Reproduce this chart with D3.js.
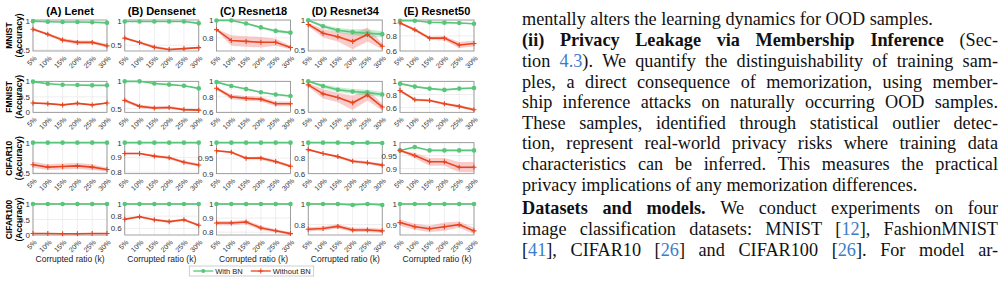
<!DOCTYPE html>
<html>
<head>
<meta charset="utf-8">
<script src="https://cdn.jsdelivr.net/npm/d3@7"></script>
<style>
  body { margin: 0; background: #fff; }
  svg { display: block; }
</style>
</head>
<body>
<svg id="fig" width="1002" height="299"></svg>
<script>
// ===========================
// BN vs no-BN accuracy grid + paper text column
// ===========================

const models = ['(A) Lenet', '(B) Densenet', '(C) Resnet18', '(D) Resnet34', '(E) Resnet50'];
const datasets = ['MNIST', 'FMNIST', 'CIFAR10', 'CIFAR100'];
const ratios = [5, 10, 15, 20, 25, 30];
const ratioLabels = ['5%', '10%', '15%', '20%', '25%', '30%'];

// rows = model A..E, columns = ratios
const mnistWithBN = [
    [1.00, 0.99, 0.985, 0.985, 0.98, 0.97],
    [1.00, 1.00, 1.00, 1.00, 1.00, 0.96],
    [1.00, 1.00, 0.965, 0.92, 0.88, 0.86],
    [1.00, 0.90, 0.83, 0.80, 0.78, 0.765],
    [1.00, 1.00, 0.98, 0.975, 0.97, 0.96]
];
const mnistWithoutBN = [
    [0.86, 0.77, 0.67, 0.63, 0.63, 0.57],
    [0.65, 0.56, 0.46, 0.41, 0.43, 0.45],
    [0.895, 0.77, 0.76, 0.75, 0.75, 0.69],
    [0.93, 0.78, 0.72, 0.64, 0.76, 0.56],
    [0.97, 0.88, 0.77, 0.77, 0.68, 0.70]
];
const mnistSpreadBN = [
    [0.005, 0.005, 0.005, 0.005, 0.005, 0.008],
    [0.003, 0.003, 0.003, 0.003, 0.003, 0.01],
    [0.003, 0.005, 0.01, 0.012, 0.015, 0.015],
    [0.01, 0.03, 0.04, 0.05, 0.07, 0.05],
    [0.003, 0.004, 0.005, 0.005, 0.006, 0.008]
];
const mnistSpreadNoBN = [
    [0.02, 0.025, 0.03, 0.035, 0.03, 0.03],
    [0.02, 0.025, 0.035, 0.02, 0.02, 0.02],
    [0.01, 0.06, 0.06, 0.06, 0.04, 0.02],
    [0.03, 0.07, 0.08, 0.13, 0.12, 0.05],
    [0.01, 0.02, 0.02, 0.03, 0.04, 0.04]
];

const fmnistWithBN = [
    [0.99, 0.92, 0.89, 0.88, 0.87, 0.87],
    [1.00, 1.00, 0.96, 0.94, 0.92, 0.87],
    [0.99, 0.94, 0.90, 0.86, 0.83, 0.81],
    [1.00, 0.92, 0.86, 0.83, 0.81, 0.78],
    [0.965, 0.92, 0.89, 0.87, 0.89, 0.90]
];
const fmnistWithoutBN = [
    [0.30, 0.28, 0.24, 0.29, 0.24, 0.30],
    [0.65, 0.54, 0.51, 0.52, 0.48, 0.47],
    [0.91, 0.80, 0.78, 0.77, 0.71, 0.71],
    [0.94, 0.79, 0.73, 0.64, 0.77, 0.57],
    [0.86, 0.72, 0.71, 0.66, 0.62, 0.57]
];
const fmnistSpreadBN = [
    [0.005, 0.008, 0.008, 0.008, 0.008, 0.008],
    [0.003, 0.005, 0.008, 0.008, 0.01, 0.01],
    [0.005, 0.01, 0.01, 0.01, 0.01, 0.01],
    [0.01, 0.03, 0.04, 0.04, 0.05, 0.04],
    [0.005, 0.008, 0.008, 0.008, 0.008, 0.008]
];
const fmnistSpreadNoBN = [
    [0.02, 0.02, 0.02, 0.02, 0.02, 0.02],
    [0.03, 0.03, 0.03, 0.03, 0.02, 0.02],
    [0.02, 0.03, 0.03, 0.03, 0.03, 0.03],
    [0.03, 0.08, 0.08, 0.12, 0.09, 0.06],
    [0.02, 0.02, 0.02, 0.02, 0.02, 0.02]
];

const cifar10WithBN = [
    [1.00, 1.00, 1.00, 1.00, 1.00, 1.00],
    [1.00, 1.00, 1.00, 1.00, 1.00, 1.00],
    [1.00, 1.00, 1.00, 1.00, 1.00, 1.00],
    [1.00, 1.00, 1.00, 0.995, 1.00, 0.995],
    [0.97, 0.983, 0.97, 0.97, 0.97, 0.97]
];
const cifar10WithoutBN = [
    [0.63, 0.59, 0.60, 0.61, 0.59, 0.55],
    [0.927, 0.927, 0.909, 0.898, 0.867, 0.849],
    [0.974, 0.969, 0.95, 0.95, 0.939, 0.924],
    [0.91, 0.86, 0.82, 0.76, 0.74, 0.71],
    [0.97, 0.95, 0.926, 0.926, 0.905, 0.905]
];
const cifar10SpreadBN = [
    [0.003, 0.003, 0.003, 0.003, 0.003, 0.003],
    [0.001, 0.001, 0.001, 0.001, 0.001, 0.001],
    [0.0005, 0.0005, 0.0005, 0.0005, 0.0005, 0.0005],
    [0.003, 0.003, 0.003, 0.004, 0.003, 0.004],
    [0.002, 0.003, 0.003, 0.003, 0.003, 0.003]
];
const cifar10SpreadNoBN = [
    [0.05, 0.05, 0.05, 0.05, 0.05, 0.03],
    [0.005, 0.005, 0.008, 0.01, 0.01, 0.01],
    [0.003, 0.003, 0.004, 0.005, 0.005, 0.005],
    [0.01, 0.012, 0.015, 0.02, 0.02, 0.02],
    [0.003, 0.01, 0.015, 0.015, 0.02, 0.02]
];

const cifar100WithBN = [
    [1.00, 1.00, 1.00, 1.00, 1.00, 1.00],
    [1.00, 1.00, 1.00, 1.00, 1.00, 1.00],
    [1.00, 1.00, 1.00, 1.00, 1.00, 1.00],
    [1.00, 1.00, 1.00, 0.99, 1.00, 0.99],
    [1.00, 1.00, 1.00, 1.00, 1.00, 1.00]
];
const cifar100WithoutBN = [
    [0.05, 0.05, 0.04, 0.04, 0.05, 0.05],
    [0.75, 0.79, 0.74, 0.71, 0.74, 0.65],
    [0.865, 0.865, 0.872, 0.83, 0.81, 0.79],
    [0.756, 0.763, 0.783, 0.749, 0.749, 0.74],
    [0.91, 0.89, 0.88, 0.89, 0.90, 0.87]
];
const cifar100SpreadBN = [
    [0.003, 0.003, 0.003, 0.003, 0.003, 0.003],
    [0.003, 0.003, 0.003, 0.003, 0.003, 0.003],
    [0.001, 0.001, 0.001, 0.001, 0.001, 0.001],
    [0.003, 0.003, 0.003, 0.005, 0.003, 0.005],
    [0.001, 0.001, 0.001, 0.001, 0.001, 0.001]
];
const cifar100SpreadNoBN = [
    [0.01, 0.01, 0.01, 0.01, 0.01, 0.01],
    [0.02, 0.02, 0.02, 0.02, 0.02, 0.02],
    [0.015, 0.015, 0.015, 0.015, 0.01, 0.01],
    [0.02, 0.02, 0.02, 0.02, 0.02, 0.02],
    [0.015, 0.015, 0.015, 0.02, 0.015, 0.015]
];

// y limits and tick labels, per dataset row, per model column
const yDomains = [
    [[0.48, 1.02], [0.38, 1.03], [0.65, 1.005], [0.48, 1.005], [0.6, 1.01]],
    [[0, 1.0], [0.43, 1.0], [0.6, 1.0], [0.48, 1.0], [0.53, 1.0]],
    [[0.48, 1.0], [0.79, 1.0], [0.9, 1.0], [0.6, 1.0], [0.88, 1.0]],
    [[0, 1.0], [0.49, 1.0], [0.78, 1.0], [0.7, 1.0], [0.85, 1.0]]
];
const yTicks = [
    [[0.5, 1], [0.5, 1], [0.8, 1], [0.5, 1], [0.6, 0.8, 1]],
    [[0, 0.5, 1], [0.5, 1], [0.6, 0.8, 1], [0.5, 1], [0.6, 0.8, 1]],
    [[0.5, 1], [0.8, 0.9, 1], [0.9, 0.95, 1], [0.6, 0.8, 1], [0.9, 0.95, 1]],
    [[0, 0.5, 1], [0.6, 0.8, 1], [0.8, 0.9, 1], [0.8, 1], [0.9, 1]]
];

const seriesWithBN = [mnistWithBN, fmnistWithBN, cifar10WithBN, cifar100WithBN];
const seriesWithoutBN = [mnistWithoutBN, fmnistWithoutBN, cifar10WithoutBN, cifar100WithoutBN];
const spreadWithBN = [mnistSpreadBN, fmnistSpreadBN, cifar10SpreadBN, cifar100SpreadBN];
const spreadWithoutBN = [mnistSpreadNoBN, fmnistSpreadNoBN, cifar10SpreadNoBN, cifar100SpreadNoBN];

// Text column (markup: *bold* and #link#)
const textLines = [
    { t: 'mentally alters the learning dynamics for OOD samples.', justify: false },
    { t: '*(ii)* *Privacy* *Leakage* *via* *Membership* *Inference* (Sec-', justify: true },
    { t: 'tion #4.3#). We quantify the distinguishability of training sam-', justify: true },
    { t: 'ples, a direct consequence of memorization, using member-', justify: true },
    { t: 'ship inference attacks on naturally occurring OOD samples.', justify: true },
    { t: 'These samples, identified through statistical outlier detec-', justify: true },
    { t: 'tion, represent real-world privacy risks where training data', justify: true },
    { t: 'characteristics can be inferred. This measures the practical', justify: true },
    { t: 'privacy implications of any memorization differences.', justify: false },
    { t: '*Datasets* *and* *models.* We conduct experiments on four', justify: true },
    { t: 'image classification datasets: MNIST [#12#], FashionMNIST', justify: true },
    { t: '[#41#], CIFAR10 [#26#] and CIFAR100 [#26#]. For model ar-', justify: true }
];

// ── Layout ──────────────────────────────────────────────────────────────────
const colors = {
    bn: '#58c67a', bnBand: '#5cc97d',
    noBn: '#e8451e', noBnBand: '#f07c7c',
    grid: '#e6e6e6', frame: '#8c8c8c', tick: '#333', link: '#3d7cc9'
};
const sans = '"Liberation Sans", Arial, sans-serif';
const serif = '"Liberation Serif", "Times New Roman", serif';

const panelW = 74, panelH = 31;
const colLeft = d3.scaleLinear().domain([0, models.length - 1]).range([33, 400]);
const rowTop = d3.scaleLinear().domain([0, datasets.length - 1]).range([20, 204]);

const svg = d3.select('#fig');
svg.append('rect').attr('width', 1002).attr('height', 299).attr('fill', '#fff');

const x = d3.scaleLinear().domain([ratios[0], ratios[ratios.length - 1]]).range([0, panelW]);

datasets.forEach((ds, r) => {
    models.forEach((m, c) => {
        const g = svg.append('g')
            .attr('transform', `translate(${colLeft(c)},${rowTop(r)})`);
        const y = d3.scaleLinear().domain(yDomains[r][c]).range([panelH, 0]);

        const clipId = `clip-${r}-${c}`;
        g.append('clipPath').attr('id', clipId)
            .append('rect').attr('width', panelW).attr('height', panelH);

        // grid
        g.append('g').selectAll('line').data(ratios).join('line')
            .attr('x1', d => x(d)).attr('x2', d => x(d))
            .attr('y1', 0).attr('y2', panelH)
            .attr('stroke', colors.grid).attr('stroke-width', 0.7);
        g.append('g').selectAll('line').data(yTicks[r][c]).join('line')
            .attr('x1', 0).attr('x2', panelW)
            .attr('y1', d => y(d)).attr('y2', d => y(d))
            .attr('stroke', colors.grid).attr('stroke-width', 0.7);

        const bn = ratios.map((k, i) => ({ k, v: seriesWithBN[r][c][i], s: spreadWithBN[r][c][i] }));
        const nobn = ratios.map((k, i) => ({ k, v: seriesWithoutBN[r][c][i], s: spreadWithoutBN[r][c][i] }));

        const band = d3.area()
            .x(d => x(d.k))
            .y0(d => y(d.v - d.s))
            .y1(d => y(d.v + d.s));
        const line = d3.line().x(d => x(d.k)).y(d => y(d.v));

        const plot = g.append('g').attr('clip-path', `url(#${clipId})`);
        plot.append('path').attr('d', band(nobn))
            .attr('fill', colors.noBnBand).attr('fill-opacity', 0.4);
        plot.append('path').attr('d', band(bn))
            .attr('fill', colors.bnBand).attr('fill-opacity', 0.35);

        // frame
        g.append('rect').attr('width', panelW).attr('height', panelH)
            .attr('fill', 'none').attr('stroke', colors.frame).attr('stroke-width', 0.8);

        // lines + markers
        g.append('path').attr('d', line(bn))
            .attr('fill', 'none').attr('stroke', colors.bn).attr('stroke-width', 1.6);
        g.selectAll('circle.bn').data(bn).join('circle')
            .attr('cx', d => x(d.k)).attr('cy', d => y(d.v)).attr('r', 2.3)
            .attr('fill', colors.bn);

        g.append('path').attr('d', line(nobn))
            .attr('fill', 'none').attr('stroke', colors.noBn).attr('stroke-width', 1.6);
        g.selectAll('path.plus').data(nobn).join('path')
            .attr('d', d => `M${x(d.k) - 2.5},${y(d.v)}h5M${x(d.k)},${y(d.v) - 2.5}v5`)
            .attr('stroke', colors.noBn).attr('stroke-width', 1.1);

        // y axis
        const ya = g.append('g')
            .call(d3.axisLeft(y).tickValues(yTicks[r][c]).tickSize(0).tickPadding(3)
                .tickFormat(d3.format('~g')));
        ya.select('.domain').remove();
        ya.selectAll('text').style('font-family', sans).style('font-size', '8px').attr('fill', colors.tick);

        // x axis (rotated labels)
        const xa = g.append('g').attr('transform', `translate(0,${panelH})`)
            .call(d3.axisBottom(x).tickValues(ratios).tickSize(0)
                .tickFormat((d, i) => ratioLabels[i]));
        xa.select('.domain').remove();
        xa.selectAll('text')
            .attr('y', 0).attr('dy', '0.35em')
            .attr('transform', 'translate(2,6) rotate(-45)')
            .attr('text-anchor', 'end')
            .style('font-family', sans).style('font-size', '7px').attr('fill', colors.tick);

        if (r === 0) {
            g.append('text')
                .attr('x', panelW / 2).attr('y', -5)
                .attr('text-anchor', 'middle')
                .style('font-family', sans).style('font-size', '11px').style('font-weight', 'bold')
                .text(m);
        }
        if (r === datasets.length - 1) {
            g.append('text')
                .attr('x', panelW / 2).attr('y', panelH + 27)
                .attr('text-anchor', 'middle')
                .style('font-family', sans).style('font-size', '8.5px').attr('fill', '#222')
                .text('Corrupted ratio (k)');
        }
    });

    // row label
    const cy = rowTop(r) + panelH / 2;
    svg.append('text')
        .attr('transform', `translate(12,${cy}) rotate(-90)`)
        .attr('text-anchor', 'middle')
        .style('font-family', sans).style('font-size', '8.5px').style('font-weight', 'bold')
        .text(ds);
    svg.append('text')
        .attr('transform', `translate(22,${cy}) rotate(-90)`)
        .attr('text-anchor', 'middle')
        .style('font-family', sans).style('font-size', '8.5px').style('font-weight', 'bold')
        .text('(Accuracy)');
});

// ── Legend ──────────────────────────────────────────────────────────────────
const legend = svg.append('g');
const legendItems = [
    { label: 'With BN', color: colors.bn, marker: 'circle' },
    { label: 'Without BN', color: colors.noBn, marker: 'plus' }
];
let lx = 4;
legendItems.forEach(it => {
    legend.append('line').attr('x1', lx).attr('x2', lx + 20).attr('y1', 5).attr('y2', 5)
        .attr('stroke', it.color).attr('stroke-width', 1.3);
    if (it.marker === 'circle') {
        legend.append('circle').attr('cx', lx + 10).attr('cy', 5).attr('r', 2).attr('fill', it.color);
    } else {
        legend.append('path').attr('d', `M${lx + 7.5},5h5M${lx + 10},2.5v5`)
            .attr('stroke', it.color).attr('stroke-width', 1);
    }
    const t = legend.append('text').attr('x', lx + 22).attr('y', 7.8)
        .style('font-family', sans).style('font-size', '7.5px').attr('fill', '#222')
        .text(it.label);
    lx += 22 + t.node().getComputedTextLength() + 8;
});
const legendW = lx - 5;
legend.insert('rect', ':first-child')
    .attr('width', legendW).attr('height', 10)
    .attr('fill', '#fff').attr('stroke', '#bbb').attr('stroke-width', 0.7);
legend.attr('transform', `translate(${colLeft(2) + panelW / 2 - legendW / 2 - 2},266)`);

// ── Text column ─────────────────────────────────────────────────────────────
const textLeft = 522, textRight = 998;
const baselines = [25, 46, 66.5, 87.5, 108, 128.5, 149, 170, 190.5, 214, 235, 255.5];

function parseWord(w) {
    return (w.match(/\*[^*]+\*|#[^#]+#|[^*#]+/g) || []).map(p => {
        if (p[0] === '*') return { s: p.slice(1, -1), bold: true };
        if (p[0] === '#') return { s: p.slice(1, -1), link: true };
        return { s: p };
    });
}

const probe = svg.append('text').style('font-family', serif).style('font-size', '16px')
    .text(textLines[0].t);
const fs = 16 * 411 / probe.node().getComputedTextLength();
probe.remove();

const textG = svg.append('g').style('font-family', serif).style('font-size', `${fs}px`);
textLines.forEach((ln, li) => {
    const words = ln.t.split(' ');
    const nodes = words.map(w => {
        const t = textG.append('text').attr('y', baselines[li]).attr('fill', '#111');
        parseWord(w).forEach(p => {
            t.append('tspan').text(p.s)
                .style('font-weight', p.bold ? 'bold' : null)
                .attr('fill', p.link ? colors.link : null);
        });
        return { t, w: t.node().getComputedTextLength() };
    });
    const total = d3.sum(nodes, d => d.w);
    const space = ln.justify ? (textRight - textLeft - total) / (nodes.length - 1) : fs * 0.25;
    let cx = textLeft;
    nodes.forEach(n => {
        n.t.attr('x', cx);
        cx += n.w + space;
    });
});
</script>
</body>
</html>
